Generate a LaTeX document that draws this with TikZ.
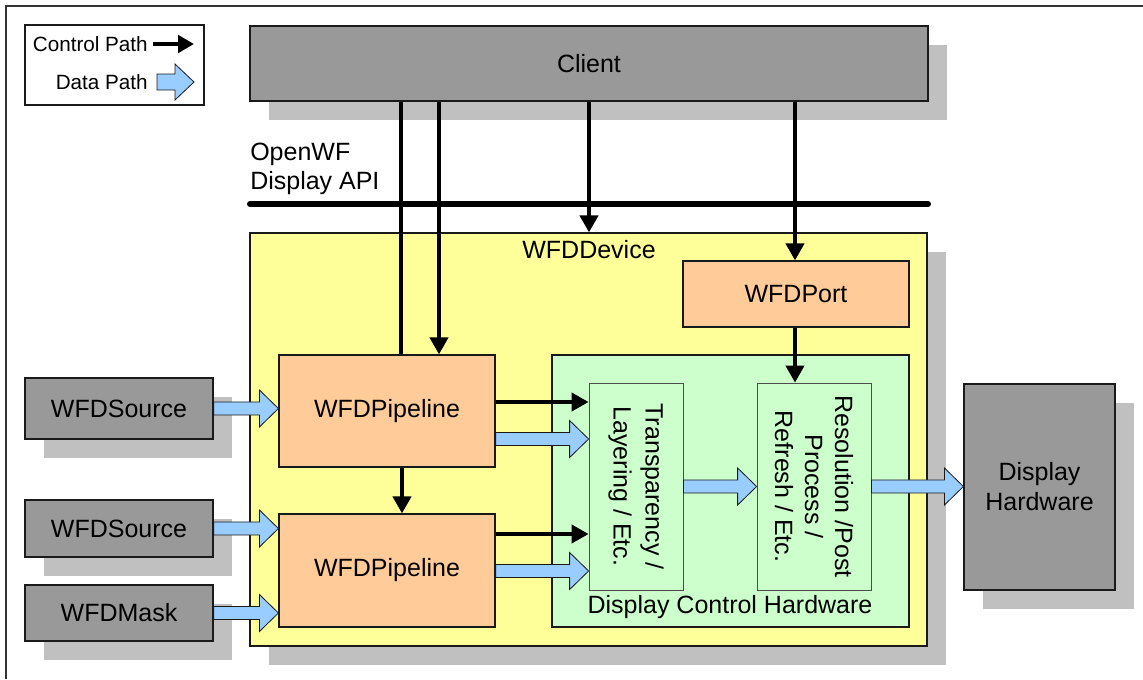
\documentclass[tikz,border=0pt]{standalone}
\usepackage{fontspec}
\setmainfont{Liberation Sans}
\usetikzlibrary{arrows.meta,fit,shadows,calc}
\definecolor{boxgray}{HTML}{999999}
\definecolor{shadowgray}{HTML}{C0C0C0}
\definecolor{devyellow}{HTML}{FFFF99}
\definecolor{pipeorange}{HTML}{FFCC99}
\definecolor{hwgreen}{HTML}{CCFFCC}
\definecolor{datablue}{HTML}{99CCFF}
\definecolor{edgecol}{HTML}{1A1A1A}
\tikzset{
  bigfont/.style={font=\fontsize{18.75pt}{22.5pt}\selectfont},
  box/.style={draw=edgecol, line width=0.9pt, inner sep=0pt, bigfont, text=black},
  shad/.style={drop shadow={shadow xshift=14.25pt, shadow yshift=-14.25pt, fill=shadowgray, opacity=1}},
  graybox/.style={box, fill=boxgray, shad},
  devbox/.style={box, fill=devyellow, shad},
  pipebox/.style={box, fill=pipeorange},
  hwbox/.style={box, fill=hwgreen},
  innerbox/.style={draw=black!70, line width=0.6pt, fill=hwgreen, inner sep=0pt},
  ctrl/.style={line width=3pt, draw=black, -{Triangle[width=13.5pt,length=12.75pt]}},
  ctrlline/.style={line width=3pt, draw=black},
  dataarr/.style={draw=edgecol, line width=0.6pt, fill=datablue, line join=miter},
  txt/.style={bigfont, inner sep=0pt, text=black},
}
\newcommand{\dataarrow}[4][4.9pt]{%
  \draw[dataarr] let \p1=(#2), \p2=(#3) in
    (\x1,\y1+#1) -- (\x2-14.25pt,\y1+#1) -- (\x2-14.25pt,\y1+#4) -- (\x2,\y1)
    -- (\x2-14.25pt,\y1-#4) -- (\x2-14.25pt,\y1-#1) -- (\x1,\y1-#1) -- cycle;}
\begin{document}
\begin{tikzpicture}[x=0.75pt,y=-0.75pt]
\useasboundingbox (0,0) rectangle (1143,679);
\fill[white] (0,0) rectangle (1143,679);
% outer frame
\draw[draw=black!80, line width=0.8pt] (1143,6) -- (6,6) -- (6,679);
% legend
\node[draw=edgecol, line width=0.8pt, fit={(25,25)(204,105)}, inner sep=0pt] (legend) {};
\node[anchor=east, inner sep=0pt, font=\fontsize{15.5pt}{18pt}\selectfont] (lctrl) at (148,44) {Control Path};
\node[anchor=east, inner sep=0pt, font=\fontsize{15.5pt}{18pt}\selectfont] (ldata) at (148,82) {Data Path};
\coordinate (lcA) at (153,44);
\coordinate (lcB) at (194,44);
\draw[line width=3pt, -{Triangle[width=13pt,length=12pt]}] (lcA) -- (lcB);
\coordinate (ldA) at (157,82);
\coordinate (ldB) at (194,82);
\dataarrow[6pt]{ldA}{ldB}{13.5pt}
% client
\node[graybox, fit={(250,26)(928,101)}] (client) {};
\node[txt] (clienttxt) at (client.center) {Client};
% API
\node[txt, anchor=west, align=left, font=\fontsize{18.75pt}{21.5pt}\selectfont] (api) at (250,169) {OpenWF\\Display API};
\coordinate (apiL) at (250,204);
\coordinate (apiR) at (928,204);
\draw[line width=4.5pt, line cap=round] (apiL) -- (apiR);
% device
\node[devbox, fit={(250,233)(927,646)}] (device) {};
\node[txt] (devlabel) at (589,250) {WFDDevice};
\node[pipebox, fit={(683,261)(909,327)}] (port) {};
\node[txt] at (port.center) {WFDPort};
\node[hwbox, fit={(552,355)(909,627)}] (dch) {};
\node[txt] (dchlabel) at (730,607) {Display Control Hardware};
\node[innerbox, fit={(589,383)(683,590)}] (tr) {};
\node[txt, rotate=-90, align=center, font=\fontsize{18.75pt}{24pt}\selectfont] (trtxt) at (tr.center) {Transparency /\\Layering / Etc.};
\node[innerbox, fit={(757,383)(871,590)}] (res) {};
\node[txt, rotate=-90, align=center, font=\fontsize{18.75pt}{22.5pt}\selectfont] (restxt) at (res.center) {Resolution /Post\\Process /\\Refresh / Etc.};
\node[pipebox, fit={(279,355)(495,467)}] (p1) {};
\node[txt] at (p1.center) {WFDPipeline};
\node[pipebox, fit={(279,514)(495,627)}] (p2) {};
\node[txt] at (p2.center) {WFDPipeline};
% sources
\node[graybox, fit={(25,378)(213,439)}] (s1) {};
\node[txt] at (s1.center) {WFDSource};
\node[graybox, fit={(25,500)(213,557)}] (s2) {};
\node[txt] at (s2.center) {WFDSource};
\node[graybox, fit={(25,585)(213,641)}] (mask) {};
\node[txt] at (mask.center) {WFDMask};
% display hardware
\node[graybox, fit={(964,384)(1115,590)}] (dh) {};
\node[txt, align=center] at (dh.center) {Display\\Hardware};
% control arrows
\draw[ctrlline] (401,0 |- client.south) -- (401,0 |- p1.north);
\draw[ctrl] (439,0 |- client.south) -- (439,0 |- p1.north);
\draw[ctrl] (589,0 |- client.south) -- (589,0 |- device.north);
\draw[ctrl] (795,0 |- client.south) -- (795,0 |- port.north);
\draw[ctrl] (795,0 |- port.south) -- (795,0 |- res.north);
\draw[ctrl] (402,0 |- p1.south) -- (402,0 |- p2.north);
\draw[ctrl] (p1.east |- 0,402) -- (tr.west |- 0,402);
\draw[ctrl] (p2.east |- 0,534) -- (tr.west |- 0,534);
% data arrows
\dataarrow{s1.east}{p1.west |- s1.east}{13.9pt}
\dataarrow{s2.east}{p2.west |- s2.east}{13.9pt}
\dataarrow{mask.east}{p2.west |- mask.east}{13.9pt}
\dataarrow{p1.east |- 0,439}{tr.west |- 0,439}{13.9pt}
\dataarrow{p2.east |- 0,571}{tr.west |- 0,571}{13.9pt}
\dataarrow{tr.east}{res.west |- tr.east}{13.9pt}
\dataarrow{res.east}{dh.west |- res.east}{13.9pt}
\end{tikzpicture}
\end{document}
